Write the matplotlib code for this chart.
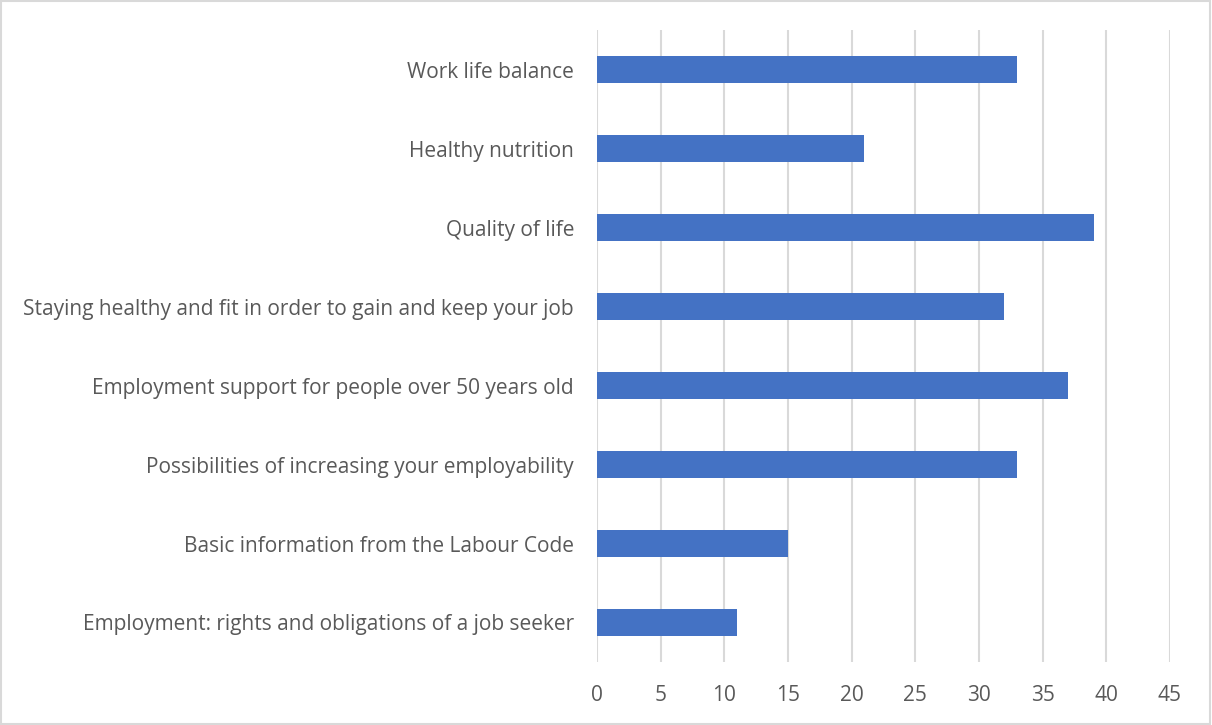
import matplotlib
matplotlib.use("Agg")
import matplotlib.pyplot as plt
from matplotlib.patches import Rectangle

categories = [
    "Work life balance",
    "Healthy nutrition",
    "Quality of life",
    "Staying healthy and fit in order to gain and keep your job",
    "Employment support for people over 50 years old",
    "Possibilities of increasing your employability",
    "Basic information from the Labour Code",
    "Employment: rights and obligations of a job seeker",
]
values = [33, 21, 39, 32, 37, 33, 15, 11]
xticks = [0, 5, 10, 15, 20, 25, 30, 35, 40, 45]

plt.rcParams['font.family'] = ['Open Sans', 'DejaVu Sans']

fig = plt.figure(figsize=(12.12, 7.25), dpi=100)
ax = fig.add_axes([0.4926, 0.0869, 0.9653 - 0.4926, 0.9586 - 0.0869])

pos = list(range(len(categories)))[::-1]
ax.barh(pos, values, height=0.34, color='#4472C4', zorder=3)
ax.set_yticks(pos)
ax.set_yticklabels(categories)
ax.set_ylim(-0.5, len(categories) - 0.5)
ax.set_xlim(0, 45)
ax.set_xticks(xticks)
ax.set_xticklabels([str(t) for t in xticks])
ax.grid(axis='x', color='#D9D9D9', linewidth=1.5, zorder=0)
for s in ax.spines.values():
    s.set_visible(False)
ax.tick_params(axis='both', length=0, labelsize=15.0, labelcolor='#595959')
ax.tick_params(axis='x', pad=16.5)
ax.tick_params(axis='y', pad=16.5)

fig.patches.append(Rectangle((0.001, 0.002), 0.997, 0.996, transform=fig.transFigure,
                             fill=False, edgecolor='#D9D9D9', linewidth=1.5))

fig.savefig('out.png', dpi=100)
